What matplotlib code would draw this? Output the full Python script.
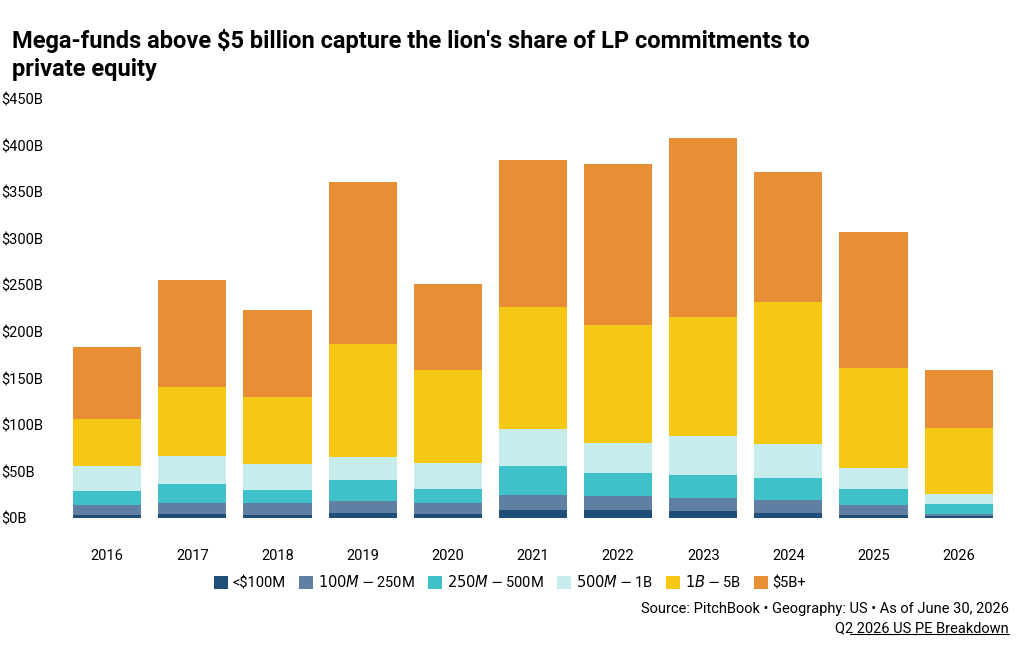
import numpy as np
import matplotlib
matplotlib.use("Agg")
from matplotlib import pyplot as plt

plt.rcParams['font.family'] = ['Roboto', 'DejaVu Sans']

years = ['2016', '2017', '2018', '2019', '2020', '2021', '2022', '2023', '2024', '2025', '2026']
labels = ['<$100M', '$100M-$250M', '$250M-$500M', '$500M-$1B', '$1B-$5B', '$5B+']
colors = ['#1f4e79', '#5f7fa3', '#3fc1c9', '#c6ecec', '#f5c814', '#e88f36']

# cumulative tops, in $B
under100 = [4, 5, 4, 6, 5, 9, 9, 8, 6, 4, 2]
to250 = [14, 17, 16, 19, 16, 25, 24, 22, 20, 14, 5]
to500 = [29, 37, 30, 41, 32, 56, 49, 46, 43, 32, 15]
to1b = [56, 67, 58, 66, 59, 96, 81, 88, 80, 54, 26]
to5b = [107, 141, 130, 187, 159, 227, 208, 216, 232, 161, 97]
total = [184, 256, 224, 361, 251, 385, 380, 408, 372, 307, 159]

tops = [under100, to250, to500, to1b, to5b, total]

fig = plt.figure(figsize=(10.2, 6.52), dpi=100)
ax = fig.add_axes([0.055, 0.205, 0.935, 0.643])

x = np.arange(len(years))
prev = np.zeros(len(years))
for lab, col, top in zip(labels, colors, tops):
    top = np.array(top, dtype=float)
    ax.bar(x, top - prev, bottom=prev, width=0.8, color=col, label=lab)
    prev = top

ax.set_ylim(0, 450)
ax.set_xlim(-0.6, len(years) - 0.4)
ax.set_yticks(range(0, 451, 50))
ax.set_yticklabels([f'${v}B' for v in range(0, 451, 50)])
ax.set_xticks(x)
ax.set_xticklabels(years)
ax.tick_params(length=0, labelsize=10.5)
ax.tick_params(axis='x', pad=22)
ax.tick_params(axis='y', pad=0)
for lbl in ax.get_yticklabels():
    lbl.set_horizontalalignment('left')
    lbl.set_x(-0.058)
for s in ax.spines.values():
    s.set_visible(False)

fig.text(0.012, 0.955, "Mega-funds above $5 billion capture the lion's share of LP commitments to\nprivate equity",
         fontsize=17, fontweight='bold', va='top', ha='left', linespacing=1.25)

fig.legend(loc='center', bbox_to_anchor=(0.5, 0.107), ncol=6, frameon=False,
           fontsize=10.5, handlelength=1.0, handleheight=1.0, handletextpad=0.3, columnspacing=0.9)

fig.text(0.989, 0.06, 'Source: PitchBook \u2022 Geography: US \u2022 As of June 30, 2026',
         ha='right', fontsize=10.5)
fig.text(0.989, 0.03, 'Q2 2026 US PE Breakdown', ha='right', fontsize=10.5)
fig.add_artist(plt.Line2D([0.833, 0.989], [0.027, 0.027], color='black', lw=0.8))

fig.savefig('out.png', dpi=100)
